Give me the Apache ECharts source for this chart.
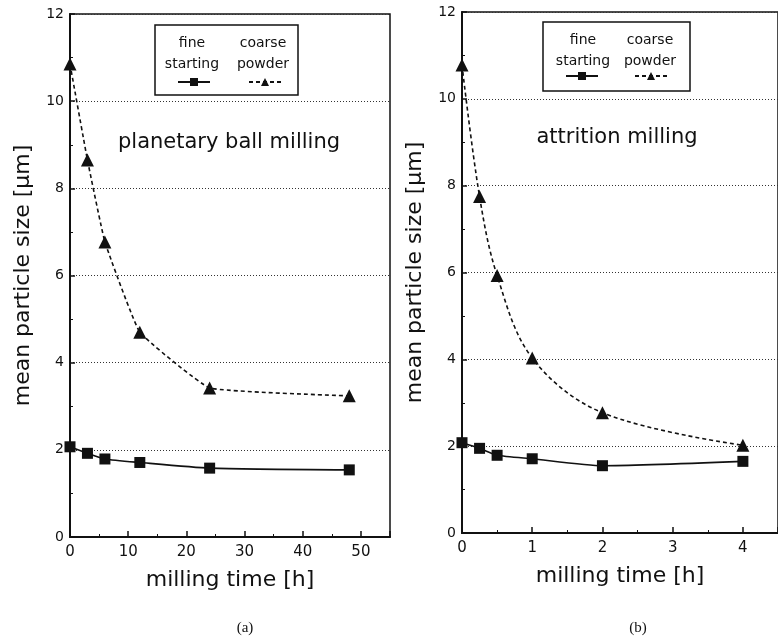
<!DOCTYPE html>
<html>
<head>
<meta charset="utf-8">
<script src="https://cdn.jsdelivr.net/npm/echarts@6/dist/echarts.min.js"></script>
<style>
  html, body { margin: 0; padding: 0; background: #fff; }
  #chart { width: 778px; height: 643px; }
</style>
</head>
<body>
<div id="chart"></div>
<script>
// (a) planetary ball milling, time in h
const timeA = [0, 3, 6, 12, 24, 48];
const fineA = [2.07, 1.92, 1.79, 1.71, 1.58, 1.54];
const coarseA = [10.85, 8.65, 6.77, 4.7, 3.42, 3.24];

// (b) attrition milling, time in h
const timeB = [0, 0.25, 0.5, 1, 2, 4];
const fineB = [2.08, 1.95, 1.79, 1.71, 1.55, 1.65];
const coarseB = [10.78, 7.75, 5.93, 4.03, 2.77, 2.02];

const yTicks = [0, 2, 4, 6, 8, 10, 12];

const font = "'DejaVu Sans', 'Liberation Sans', sans-serif";
const chart = echarts.init(document.getElementById("chart"));

function pairs(xs, ys) {
  return xs.map((x, i) => [x, ys[i]]);
}

function xAxisOf(idx, max, interval) {
  return {
    gridIndex: idx,
    type: "value",
    min: 0,
    max: max,
    interval: interval,
    name: "milling time [h]",
    nameLocation: "middle",
    nameGap: 32,
    nameTextStyle: { fontFamily: font, fontSize: 22, color: "#111" },
    axisLine: { lineStyle: { color: "#111", width: 2 } },
    axisTick: { inside: true, length: 6, lineStyle: { color: "#111", width: 1.5 } },
    minorTick: { show: true, splitNumber: 2, length: 3, lineStyle: { color: "#111" } },
    axisLabel: {
      fontFamily: font, fontSize: 15, color: "#111", margin: 8,
      showMaxLabel: false,
    },
    splitLine: { show: false },
  };
}

function yAxisOf(idx) {
  return {
    gridIndex: idx,
    type: "value",
    min: 0,
    max: 12,
    interval: 2,
    name: "mean particle size [\u03bcm]",
    nameLocation: "middle",
    nameGap: 36,
    nameTextStyle: { fontFamily: font, fontSize: 22, color: "#111" },
    axisLine: { lineStyle: { color: "#111", width: 2 } },
    axisTick: { inside: true, length: 5, lineStyle: { color: "#111", width: 1.5 } },
    minorTick: { show: true, splitNumber: 2, length: 3, lineStyle: { color: "#111" } },
    axisLabel: {
      fontFamily: font, fontSize: 14, color: "#111", margin: 6,
      formatter: (v) => (yTicks.includes(v) ? String(v) : ""),
    },
    splitLine: { show: true, lineStyle: { color: "#333", width: 1, type: [1, 2] } },
  };
}

function fineSeries(idx, data) {
  return {
    name: "fine starting",
    type: "line",
    xAxisIndex: idx,
    yAxisIndex: idx,
    data: data,
    smooth: 0.2,
    symbol: "rect",
    symbolSize: 11,
    itemStyle: { color: "#111" },
    lineStyle: { color: "#111", width: 1.6 },
    z: 3,
  };
}

function coarseSeries(idx, data, smooth) {
  return {
    name: "coarse powder",
    type: "line",
    xAxisIndex: idx,
    yAxisIndex: idx,
    data: data,
    smooth: smooth,
    symbol: "triangle",
    symbolSize: 13,
    itemStyle: { color: "#111" },
    lineStyle: { color: "#111", width: 1.6, type: [4, 3] },
    z: 3,
  };
}

function legendItem(name, left, top) {
  return {
    data: [name],
    left: left,
    top: top,
    itemWidth: 32,
    itemHeight: 10,
    formatter: () => "",
    selectedMode: false,
    padding: 0,
    z: 30,
  };
}

function legendBox(x, y, w, h, col1, col2) {
  const t = { fontFamily: font, fontSize: 14, fill: "#111", align: "center", lineHeight: 21 };
  return [
    {
      type: "rect",
      shape: { x: x, y: y, width: w, height: h },
      style: { fill: "#fff", stroke: "#111", lineWidth: 1.5 },
      z: -1,
    },
    {
      type: "text", x: col1, y: y + 8,
      style: Object.assign({ text: "fine\nstarting" }, t),
    },
    {
      type: "text", x: col2, y: y + 8,
      style: Object.assign({ text: "coarse\npowder" }, t),
    },
  ];
}

const option = {
  animation: false,
  grid: [
    { left: 70, top: 14, width: 320, height: 523, show: true, borderColor: "#111", borderWidth: 1.5 },
    { left: 462, top: 12, width: 320, height: 521, show: true, borderColor: "#111", borderWidth: 1.5 },
  ],
  xAxis: [xAxisOf(0, 55, 10), xAxisOf(1, 4.5, 1)],
  yAxis: [yAxisOf(0), yAxisOf(1)],
  legend: [
    legendItem("fine starting", 177, 77),
    legendItem("coarse powder", 248, 77),
    legendItem("fine starting", 565, 71),
    legendItem("coarse powder", 634, 71),
  ],
  series: [
    fineSeries(0, pairs(timeA, fineA)),
    coarseSeries(0, pairs(timeA, coarseA), 0.1),
    fineSeries(1, pairs(timeB, fineB)),
    coarseSeries(1, pairs(timeB, coarseB), 0.35),
  ],
  graphic: {
    z: 20,
    elements: [
      ...legendBox(155, 25, 143, 70, 192, 263),
      ...legendBox(543, 22, 147, 69, 583, 650),
      {
        type: "text", x: 229, y: 143,
        style: { text: "planetary ball milling", fontFamily: font, fontSize: 21, fill: "#111", align: "center", verticalAlign: "middle" },
      },
      {
        type: "text", x: 617, y: 138,
        style: { text: "attrition milling", fontFamily: font, fontSize: 21, fill: "#111", align: "center", verticalAlign: "middle" },
      },
      {
        type: "text", x: 245, y: 628,
        style: { text: "(a)", fontFamily: "'Liberation Serif', serif", fontSize: 15, fill: "#111", align: "center", verticalAlign: "middle" },
      },
      {
        type: "text", x: 638, y: 628,
        style: { text: "(b)", fontFamily: "'Liberation Serif', serif", fontSize: 15, fill: "#111", align: "center", verticalAlign: "middle" },
      },
    ],
  },
};

chart.setOption(option);
</script>
</body>
</html>
